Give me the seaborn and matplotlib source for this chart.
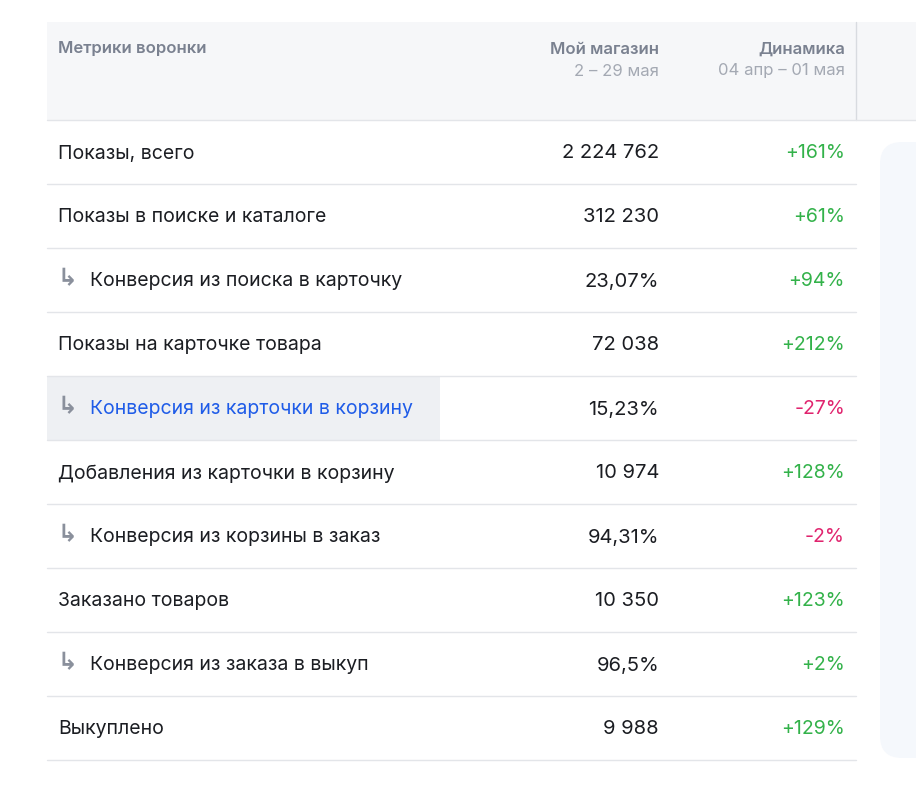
import matplotlib
matplotlib.use("Agg")
import matplotlib.pyplot as plt
from matplotlib.patches import Rectangle, FancyBboxPatch
import seaborn as sns

metrics = ["Показы, всего", "Показы в поиске и каталоге", "Конверсия из поиска в карточку",
           "Показы на карточке товара", "Конверсия из карточки в корзину",
           "Добавления из карточки в корзину", "Конверсия из корзины в заказ",
           "Заказано товаров", "Конверсия из заказа в выкуп", "Выкуплено"]
is_conversion = [False, False, True, False, True, False, True, False, True, False]
store_values = ["2 224 762", "312 230", "23,07%", "72 038", "15,23%", "10 974", "94,31%",
                "10 350", "96,5%", "9 988"]
dynamics = [161, 61, 94, 212, -27, 128, -2, 123, 2, 129]
highlight_row = 4

sns.set_theme(style="white", font="Inter")
fig = plt.figure(figsize=(9.16, 8.0), dpi=100)
ax = fig.add_axes([0, 0, 1, 1])
ax.set_xlim(0, 916)
ax.set_ylim(800, 0)
ax.axis("off")

ax.add_patch(Rectangle((47, 22), 869, 98, color="#f6f7f9", lw=0))
ax.plot([856, 856], [22, 120], color="#d8dbe0", lw=1)
ax.plot([47, 916], [120, 120], color="#e3e5e9", lw=1)
ax.add_patch(FancyBboxPatch((880, 142), 60, 616, boxstyle="round,pad=0,rounding_size=22",
                            color="#f5f8fc", lw=0))

gray = "#7a8190"
ax.text(58, 49, "Метрики воронки", fontsize=12, color=gray, fontweight="semibold", va="center")
ax.text(659, 49, "Мой магазин", fontsize=12, color=gray, fontweight="semibold", va="center", ha="right")
ax.text(659, 71, "2 – 29 мая", fontsize=12, color="#a4a9b3", va="center", ha="right")
ax.text(845, 49, "Динамика", fontsize=12, color=gray, fontweight="semibold", va="center", ha="right")
ax.text(845, 71, "04 апр – 01 мая", fontsize=12, color="#a4a9b3", va="center", ha="right")

row_h = 64
top = 120
for i, (m, conv, v, d) in enumerate(zip(metrics, is_conversion, store_values, dynamics)):
    y0 = top + i * row_h
    yc = y0 + row_h / 2 + 1.5
    if i == highlight_row:
        ax.add_patch(Rectangle((47, y0), 393, row_h, color="#eef0f3", lw=0))
    ax.plot([47, 856], [y0 + row_h, y0 + row_h], color="#e3e5e9", lw=1)
    if conv:
        ax.text(57, yc - 3, "↳", fontsize=17, color="#8a909c", va="center", fontfamily="DejaVu Sans",
                fontweight="bold")
        ax.text(90, yc, m, fontsize=14, va="center",
                color="#1f5ce8" if i == highlight_row else "#1b1d22")
    else:
        ax.text(58, yc, m, fontsize=14, va="center", color="#1b1d22")
    ax.text(659, yc, v, fontsize=14.5, va="center", ha="right", color="#1b1d22")
    ax.text(845, yc, f"{'+' if d > 0 else '-'}{abs(d)}%", fontsize=14, va="center", ha="right",
            color="#33b24a" if d > 0 else "#e0246e")

fig.savefig("out.png", dpi=100)
